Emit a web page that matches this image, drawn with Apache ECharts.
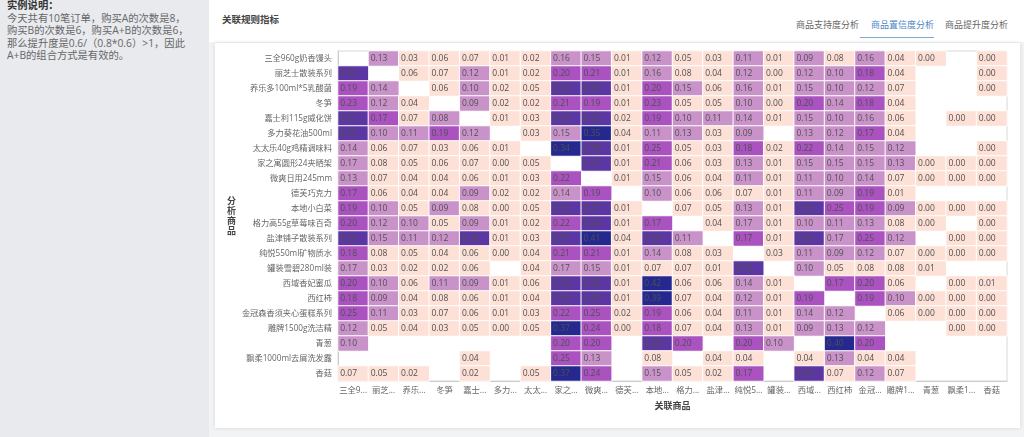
<!DOCTYPE html>
<html>
<head>
<meta charset="utf-8">
<title>关联规则指标</title>
<script src="https://cdn.jsdelivr.net/npm/echarts@6/dist/echarts.min.js"></script>
<style>
    html, body { margin: 0; padding: 0; width: 1024px; height: 437px; overflow: hidden; background: #fff; }
    body { font-family: "Open Sans", "Noto Sans CJK SC", sans-serif; color: #555; position: relative; }
    .side { position: absolute; left: 0; top: 0; width: 209px; height: 437px; background: #e8eaee; }
    .note { position: absolute; left: 7px; top: -1px; width: 200px; font-size: 10.3px; line-height: 12.6px; color: #666; white-space: nowrap; }
    .note b { color: #333; display: block; margin-bottom: 0; }
    .heading { position: absolute; left: 222px; top: 12px; font-size: 9.5px; font-weight: bold; color: #444; }
    .tab { position: absolute; top: 18px; font-size: 9px; color: #666; }
    .tab.active { color: #4a86c8; }
    .tabline { position: absolute; left: 860px; top: 37px; width: 74px; height: 1px; background: #7fa8d6; }
    .main-bg { position: absolute; left: 209px; top: 42px; width: 815px; height: 395px; background: #f2f3f5; }
    .card { position: absolute; left: 215px; top: 43px; width: 805px; height: 385px; background: #fff; box-shadow: 0 0 4px rgba(0,0,0,0.12); }
    #chart { position: absolute; left: 209px; top: 42px; width: 815px; height: 395px; }
</style>
</head>
<body>
<div class="side"></div>
<div class="note">
    <b>实例说明：</b>
    今天共有10笔订单，购买A的次数是8，<br>
    购买B的次数是6，购买A+B的次数是6，<br>
    那么提升度是0.6/（0.8*0.6）&gt;1，因此<br>
    A+B的组合方式是有效的。
</div>
<div class="heading">关联规则指标</div>
<div class="tab" style="left:796px">商品支持度分析</div>
<div class="tab active" style="left:871px">商品置信度分析</div>
<div class="tab" style="left:945px">商品提升度分析</div>
<div class="tabline"></div>
<div class="main-bg"></div>
<div class="card"></div>
<div id="chart"></div>

<script>
// Row and column products
const products = ['三全960g奶香馒头', '丽芝士散装系列', '养乐多100ml*5乳酸菌', '冬笋', '嘉士利115g威化饼', '多力葵花油500ml',
    '太太乐40g鸡精调味料', '家之寓圆形24夹晒架', '微爽日用245mm', '德芙巧克力', '本地小白菜', '格力高55g草莓味百奇',
    '盐津铺子散装系列', '纯悦550ml矿物质水', '罐装雪碧280ml装', '西域香妃蜜瓜', '西红柿', '金冠森香须夹心蛋糕系列',
    '雕牌1500g洗洁精', '青葱', '飘柔1000ml去屑洗发露', '香菇'];

const _ = null;

// Confidence per analysed product (row) against associated product (column)
const confidence = [
    [_, 0.13, 0.03, 0.06, 0.07, 0.01, 0.02, 0.16, 0.15, 0.01, 0.12, 0.05, 0.03, 0.11, 0.01, 0.09, 0.08, 0.16, 0.04, 0.00, _, 0.00],
    [0.32, _, 0.06, 0.07, 0.12, 0.01, 0.02, 0.20, 0.21, 0.01, 0.16, 0.08, 0.04, 0.12, 0.00, 0.12, 0.10, 0.18, 0.04, _, _, 0.00],
    [0.19, 0.14, _, 0.06, 0.10, 0.02, 0.05, 0.26, 0.30, 0.01, 0.20, 0.15, 0.06, 0.16, 0.01, 0.15, 0.10, 0.12, 0.07, _, _, 0.00],
    [0.23, 0.12, 0.04, _, 0.09, 0.02, 0.02, 0.21, 0.19, 0.01, 0.23, 0.05, 0.05, 0.10, 0.00, 0.20, 0.14, 0.18, 0.04, _, _, _],
    [0.27, 0.17, 0.07, 0.0845, _, 0.01, 0.03, 0.27, 0.27, 0.02, 0.19, 0.10, 0.11, 0.14, 0.01, 0.15, 0.10, 0.16, 0.06, _, 0.00, 0.00],
    [0.29, 0.10, 0.11, 0.19, 0.12, _, 0.03, 0.15, 0.35, 0.04, 0.11, 0.13, 0.03, 0.09, _, 0.13, 0.12, 0.17, 0.04, _, _, _],
    [0.14, 0.06, 0.07, 0.03, 0.06, 0.01, _, 0.34, 0.28, 0.01, 0.25, 0.05, 0.03, 0.18, 0.02, 0.22, 0.14, 0.15, 0.12, _, _, 0.00],
    [0.166, 0.08, 0.05, 0.06, 0.07, 0.00, 0.05, _, 0.27, 0.01, 0.21, 0.06, 0.03, 0.13, 0.01, 0.15, 0.15, 0.15, 0.13, 0.00, 0.00, 0.00],
    [0.13, 0.07, 0.04, 0.04, 0.06, 0.01, 0.03, 0.22, _, 0.01, 0.15, 0.06, 0.04, 0.11, 0.01, 0.11, 0.10, 0.14, 0.07, 0.00, 0.00, 0.00],
    [0.17, 0.06, 0.04, 0.04, 0.09, 0.02, 0.02, 0.14, 0.19, _, 0.10, 0.06, 0.06, 0.07, 0.01, 0.11, 0.09, 0.19, 0.01, _, _, _],
    [0.19, 0.10, 0.05, 0.09, 0.08, 0.00, 0.05, 0.31, 0.27, 0.01, _, 0.07, 0.05, 0.13, 0.01, 0.30, 0.25, 0.19, 0.09, 0.00, 0.00, 0.00],
    [0.20, 0.12, 0.10, 0.05, 0.09, 0.01, 0.02, 0.22, 0.26, 0.01, 0.17, _, 0.04, 0.166, 0.01, 0.10, 0.11, 0.13, 0.08, 0.00, _, 0.00],
    [0.26, 0.15, 0.11, 0.12, 0.28, 0.01, 0.03, 0.31, 0.41, 0.04, 0.29, 0.11, _, 0.17, 0.01, 0.26, 0.166, 0.25, 0.12, _, 0.00, 0.00],
    [0.18, 0.08, 0.05, 0.04, 0.06, 0.00, 0.04, 0.21, 0.21, 0.01, 0.14, 0.08, 0.03, _, 0.03, 0.11, 0.09, 0.12, 0.07, 0.00, 0.00, 0.00],
    [0.166, 0.03, 0.02, 0.02, 0.06, _, 0.04, 0.166, 0.15, 0.01, 0.07, 0.07, 0.01, 0.32, _, 0.10, 0.05, 0.08, 0.08, 0.01, _, _],
    [0.20, 0.10, 0.06, 0.11, 0.09, 0.01, 0.06, 0.30, 0.28, 0.01, 0.42, 0.06, 0.06, 0.14, 0.01, _, 0.17, 0.20, 0.06, _, 0.00, 0.01],
    [0.18, 0.09, 0.04, 0.08, 0.06, 0.01, 0.04, 0.33, 0.29, 0.01, 0.39, 0.07, 0.04, 0.12, 0.01, 0.19, _, 0.19, 0.10, 0.00, 0.00, 0.00],
    [0.25, 0.11, 0.03, 0.07, 0.06, 0.01, 0.03, 0.22, 0.25, 0.02, 0.19, 0.06, 0.04, 0.11, 0.01, 0.14, 0.12, _, 0.06, 0.00, 0.00, 0.00],
    [0.12, 0.05, 0.04, 0.03, 0.05, 0.00, 0.05, 0.37, 0.24, 0.00, 0.18, 0.07, 0.04, 0.13, 0.01, 0.09, 0.13, 0.12, _, _, 0.00, 0.00],
    [0.10, _, _, _, _, _, _, 0.20, 0.20, _, 0.30, 0.20, _, 0.20, 0.10, _, 0.40, 0.20, _, _, _, _],
    [_, _, _, _, 0.04, _, _, 0.25, 0.13, _, 0.08, _, 0.04, 0.04, _, 0.04, 0.13, 0.04, 0.04, _, _, _],
    [0.07, 0.05, 0.02, _, 0.02, _, 0.05, 0.37, 0.24, _, 0.15, 0.05, 0.02, 0.17, _, 0.29, 0.07, 0.12, 0.07, _, _, _]
];

// Five equal colour bands up to the highest value
const bandLimits = [0, 0.084, 0.168, 0.252, 0.336, 0.42];
const bandColors = ['#fde0d6', '#c993c9', '#aa52c0', '#5c37a3', '#25288f'];

const cells = [];
confidence.forEach((row, y) => {
    row.forEach((value, x) => {
        if (value !== null) cells.push([x, y, value]);
    });
});

const chart = echarts.init(document.getElementById('chart'));

const fontFamily = '"Open Sans", "Noto Sans CJK SC", sans-serif';

chart.setOption({
    animation: false,
    textStyle: { fontFamily: fontFamily },
    grid: { left: 129, right: 17, top: 9, bottom: 56, show: true, borderColor: '#d8d8d8', borderWidth: 1 },
    xAxis: {
        type: 'category',
        data: products,
        name: '关联商品',
        nameLocation: 'middle',
        nameGap: 21,
        nameTextStyle: { fontSize: 9, fontWeight: 'bold', color: '#444' },
        axisTick: { show: false },
        axisLine: { lineStyle: { color: '#ccc' } },
        splitLine: { show: false },
        axisLabel: {
            interval: 0,
            fontSize: 8.3,
            color: '#666',
            margin: 5,
            width: 30,
            overflow: 'truncate',
            ellipsis: '...'
        }
    },
    yAxis: {
        type: 'category',
        data: products,
        inverse: true,
        name: '分\n析\n商\n品',
        nameLocation: 'middle',
        nameRotate: 0,
        nameGap: 98,
        nameTextStyle: { fontSize: 9, fontWeight: 'bold', color: '#444', lineHeight: 10 },
        axisTick: { show: false },
        axisLine: { lineStyle: { color: '#ccc' } },
        splitLine: { show: false },
        axisLabel: { interval: 0, fontSize: 8.2, color: '#666', margin: 6 }
    },
    visualMap: {
        type: 'piecewise',
        show: false,
        dimension: 2,
        pieces: bandColors.map((color, i) => ({
            min: bandLimits[i],
            max: bandLimits[i + 1],
            color: color
        }))
    },
    series: [{
        type: 'heatmap',
        data: cells,
        itemStyle: { borderColor: '#fff', borderWidth: 1 },
        label: {
            show: true,
            position: 'insideLeft',
            distance: 3,
            fontSize: 8.5,
            color: '#505050',
            formatter: p => p.value[2].toFixed(2)
        }
    }]
});
</script>
</body>
</html>
